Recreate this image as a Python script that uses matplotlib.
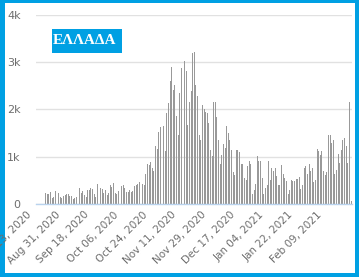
import numpy as np
import pandas as pd
import matplotlib
matplotlib.use("Agg")
import matplotlib.pyplot as plt
import matplotlib.transforms as mtransforms
from matplotlib.patches import Rectangle

# -------------------------------------------------
# Data (daily cases)
# -------------------------------------------------
start_date = "2020-08-19"
end_date = "2021-02-24"

cases_aug_sep = [
    241, 206, 220, 248, 135, 149, 277, 241, 234, 142, 121, 170, 191, 213, 213, 170,
    170, 113, 135, 156, 241, 340, 241, 284, 184, 156, 298, 298, 333, 312, 213, 142,
    426, 319, 333, 312, 234, 298,
    191, 241, 404, 355, 440, 241, 206, 284, 383, 383, 404, 333, 262, 262, 298,
]
cases_oct_nov = [
    252, 273, 372, 394, 415, 464, 443, 415, 394, 628, 840, 819, 890, 770, 699, 1223,
    1174, 1528, 1635, 2032, 1649, 1117, 1933, 2145, 2606, 2890, 2415,
    2521, 1862, 1457, 2358, 2876, 3280, 3018, 2805, 1670, 2167, 2394, 3195, 3209, 2521,
    2287, 1457, 1351, 2096, 2004, 1954, 1933, 1706, 1152, 1011, 2167, 2167,
]
cases_dec_jan = [
    1833, 1351, 855, 1032, 1280, 1180, 1649, 1493, 1365, 1152,
    677, 606, 1152, 1152, 1103, 840, 855, 557, 500, 798, 904, 840, 216, 301, 429, 1011,
    904, 904, 557, 216, 344, 394, 904, 500, 770, 691, 762, 600, 408, 408, 819, 628,
    557, 479, 202,
]
cases_jan_feb = [
    287, 500, 486, 479, 536, 520, 571, 323, 394, 770, 798, 628, 840, 700, 770, 464, 500,
    1174, 1124, 1032, 1124, 699, 606, 680,
    1457, 1457, 1294, 1351, 628, 713, 1053, 869, 1150, 1365, 1387, 1230, 869, 2167, 74,
]
cases = cases_aug_sep + cases_oct_nov + cases_dec_jan + cases_jan_feb

tick_dates = ["2020-08-13", "2020-08-31", "2020-09-18", "2020-10-06", "2020-10-24",
              "2020-11-11", "2020-11-29", "2020-12-17", "2021-01-04", "2021-01-22",
              "2021-02-09"]
y_ticks = [0, 1000, 2000, 3000, 4000]
y_labels = ["0", "1k", "2k", "3k", "4k"]
title = "ΕΛΛΑΔΑ"

# -------------------------------------------------
# Styles
# -------------------------------------------------
blue = "#00A0E3"
bar_color = "#999999"
text_color = "#6E6E6E"

dates = pd.date_range(start_date, periods=len(cases), freq="D")
t0 = pd.Timestamp(start_date)
x = (dates - t0).days.values
tick_x = [(pd.Timestamp(d) - t0).days for d in tick_dates]
tick_text = [pd.Timestamp(d).strftime("%b %d, %Y") for d in tick_dates]
x_end = (pd.Timestamp(end_date) - t0).days

fig = plt.figure(figsize=(3.59, 2.77), dpi=100)
fig.patch.set_facecolor(blue)

# white card inside the blue frame
fig.patches.append(Rectangle((5 / 359, 4 / 277), 350 / 359, 270 / 277,
                             transform=fig.transFigure, facecolor="white",
                             edgecolor="none", zorder=-10))

ax = fig.add_axes([36 / 359, 73 / 277, 316 / 359, 189 / 277])
ax.set_facecolor("none")

ax.bar(x, cases, width=0.6, color=bar_color, zorder=2)

ax.set_xlim(-0.6, x_end + 0.6)
ax.set_ylim(0, 4000)
ax.set_yticks(y_ticks)
ax.set_yticklabels(y_labels)
ax.set_xticks(tick_x)
ax.set_xticklabels(tick_text)

ax.grid(axis="y", color="#E1E1E1", linewidth=1.0, zorder=0)
for s in ["top", "right", "left"]:
    ax.spines[s].set_visible(False)
ax.spines["bottom"].set_color("#B9D3EE")
ax.spines["bottom"].set_linewidth(1.0)
ax.spines["bottom"].set_zorder(3)

ax.tick_params(axis="y", length=0, pad=11, labelsize=8, labelcolor=text_color)
ax.tick_params(axis="x", length=0, pad=4, labelsize=7.5, labelcolor=text_color,
               labelrotation=45)

# labels sit a little left of their tick in the reference
shift = mtransforms.ScaledTranslation(-3 / 100, 0, fig.dpi_scale_trans)
for lab in ax.get_xticklabels():
    lab.set_rotation(45)
    lab.set_ha("right")
    lab.set_va("top")
    lab.set_rotation_mode("default")
    lab.set_transform(lab.get_transform() + shift)

# title badge
fig.patches.append(Rectangle((52 / 359, 224 / 277), 70 / 359, 24 / 277,
                             transform=fig.transFigure, facecolor=blue,
                             edgecolor="none", zorder=5))
fig.text(52.5 / 359, 236 / 277, title, color="white", fontsize=11,
         fontweight="bold", family="Liberation Serif", ha="left", va="center",
         zorder=6)

fig.savefig("out.png", dpi=100, facecolor=fig.get_facecolor())
